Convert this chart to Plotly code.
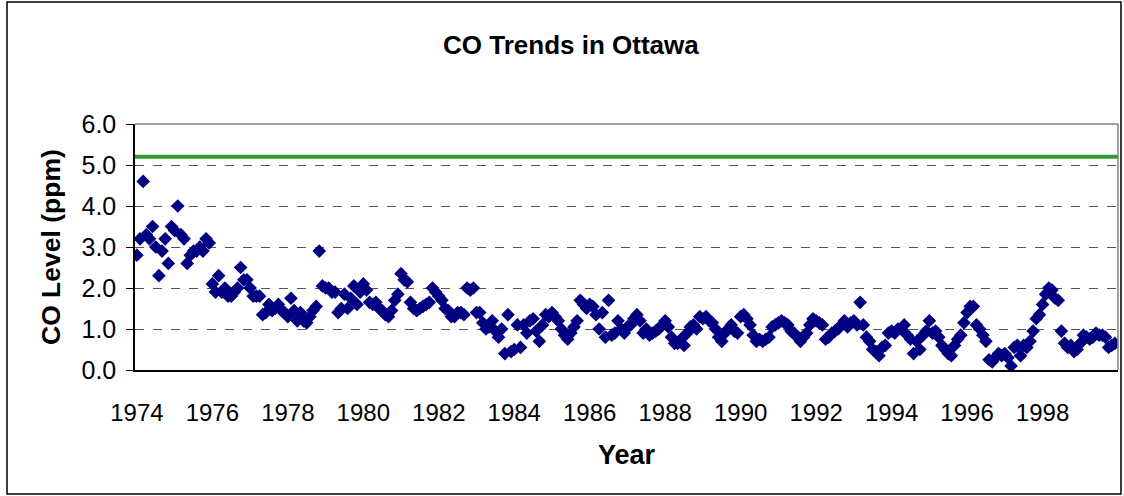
import plotly.graph_objects as go

# Monthly CO levels (ppm), Jan 1974 .. Dec 1999
co_1974 = [2.8, 3.2, 4.6, 3.3, 3.2, 3.5, 3.0, 2.3, 2.9, 3.2, 2.6, 3.5]
co_1975 = [3.4, 4.0, 3.3, 3.2, 2.6, 2.8, 2.9, 2.9, 3.0, 2.9, 3.2, 3.1]
co_1976 = [2.1, 1.9, 2.3, 1.9, 2.0, 1.8, 1.8, 1.9, 2.0, 2.5, 2.2, 2.2]
co_1977 = [2.0, 1.8, 1.8, 1.8, 1.35, 1.4, 1.6, 1.45, 1.5, 1.6, 1.45, 1.4]
co_1978 = [1.3, 1.75, 1.45, 1.2, 1.4, 1.2, 1.15, 1.3, 1.45, 1.55, 2.9, 2.05]
co_1979 = [2.0, 2.0, 1.9, 1.9, 1.4, 1.5, 1.85, 1.5, 1.75, 2.05, 1.6, 1.9]
co_1980 = [2.1, 1.95, 1.65, 1.6, 1.65, 1.5, 1.45, 1.35, 1.3, 1.45, 1.7, 1.85]
co_1981 = [2.35, 2.2, 2.15, 1.65, 1.5, 1.45, 1.5, 1.55, 1.6, 1.65, 2.0, 1.9]
co_1982 = [1.8, 1.7, 1.5, 1.45, 1.3, 1.3, 1.4, 1.4, 1.35, 2.0, 1.95, 2.0]
co_1983 = [1.4, 1.4, 1.15, 1.0, 1.05, 1.2, 0.95, 0.8, 1.0, 0.4, 1.35, 0.45]
co_1984 = [0.5, 1.1, 0.55, 1.1, 0.9, 1.2, 1.25, 0.95, 0.7, 1.1, 1.35, 1.3]
co_1985 = [1.4, 1.3, 1.2, 1.0, 0.85, 0.75, 0.9, 1.05, 1.2, 1.7, 1.6, 1.5]
co_1986 = [1.6, 1.55, 1.35, 1.0, 1.4, 0.8, 1.7, 0.85, 0.9, 1.2, 1.0, 0.9]
co_1987 = [1.05, 1.1, 1.25, 1.35, 1.2, 0.9, 1.0, 0.85, 0.9, 0.95, 1.0, 1.1]
co_1988 = [1.2, 1.05, 0.8, 0.65, 0.65, 0.75, 0.6, 0.9, 1.05, 1.1, 1.0, 1.3]
co_1989 = [1.25, 1.3, 1.2, 1.15, 1.0, 0.8, 0.7, 0.9, 1.0, 1.1, 0.95, 0.9]
co_1990 = [1.3, 1.35, 1.25, 1.1, 0.85, 0.7, 0.75, 0.7, 0.75, 0.8, 1.05, 1.1]
co_1991 = [1.15, 1.2, 1.15, 1.1, 0.95, 0.9, 0.8, 0.7, 0.8, 0.9, 1.1, 1.25]
co_1992 = [1.2, 1.15, 1.1, 0.75, 0.8, 0.9, 0.95, 1.0, 1.1, 1.2, 1.05, 1.15]
co_1993 = [1.2, 1.1, 1.65, 1.1, 0.8, 0.7, 0.5, 0.45, 0.35, 0.55, 0.6, 0.9]
co_1994 = [0.95, 0.9, 1.0, 1.0, 1.1, 0.85, 0.75, 0.4, 0.7, 0.5, 0.85, 0.95]
co_1995 = [1.2, 0.9, 0.95, 0.8, 0.6, 0.5, 0.4, 0.35, 0.6, 0.75, 0.85, 1.15]
co_1996 = [1.4, 1.55, 1.55, 1.1, 1.0, 0.85, 0.7, 0.25, 0.2, 0.3, 0.4, 0.35]
co_1997 = [0.4, 0.3, 0.1, 0.55, 0.6, 0.35, 0.6, 0.55, 0.7, 0.95, 1.25, 1.35]
co_1998 = [1.6, 1.85, 2.0, 1.95, 1.75, 1.7, 0.95, 0.65, 0.55, 0.6, 0.45, 0.5]
co_1999 = [0.65, 0.85, 0.8, 0.75, 0.8, 0.9, 0.85, 0.85, 0.8, 0.55, 0.6, 0.65]

years = list(range(1974, 2000))
yearly = [co_1974, co_1975, co_1976, co_1977, co_1978, co_1979, co_1980, co_1981,
          co_1982, co_1983, co_1984, co_1985, co_1986, co_1987, co_1988, co_1989,
          co_1990, co_1991, co_1992, co_1993, co_1994, co_1995, co_1996, co_1997,
          co_1998, co_1999]

standard_level = 5.2
x_ticks = list(range(1974, 1999, 2))
y_ticks = [0, 1, 2, 3, 4, 5, 6]
y_tick_labels = ["0.0", "1.0", "2.0", "3.0", "4.0", "5.0", "6.0"]

xs, ys = [], []
for yr, vals in zip(years, yearly):
    for m, v in enumerate(vals):
        xs.append(yr + m / 12.0)
        ys.append(v)

FONT = "Liberation Sans, Arial, sans-serif"

fig = go.Figure()
fig.add_trace(go.Scatter(
    x=[1973.95, 2000], y=[standard_level, standard_level], mode="lines",
    line=dict(color="#339933", width=4), hoverinfo="skip", showlegend=False))
fig.add_trace(go.Scatter(
    x=xs, y=ys, mode="markers",
    marker=dict(symbol="diamond", size=10.5, color="#000080", line=dict(width=0)),
    showlegend=False))

L, R, T, B = 135, 6, 124, 126
W, H = 1124, 496
pw, ph = W - L - R, H - T - B

def px(x):
    return (x - L) / pw

def py(y):
    return (H - B - y) / ph

fig.update_layout(
    width=W, height=H,
    margin=dict(l=L, r=R, t=T, b=B, pad=0),
    paper_bgcolor="white", plot_bgcolor="white",
    font=dict(family=FONT, color="black"),
    xaxis=dict(range=[1973.95, 2000], tickvals=x_ticks, ticktext=[str(v) for v in x_ticks],
               showgrid=False, zeroline=False, showline=True, linecolor="black", linewidth=1.5,
               ticks="", tickfont=dict(size=24, family=FONT), ticklabelstandoff=20),
    yaxis=dict(range=[0, 6], tickvals=y_ticks, ticktext=y_tick_labels,
               showgrid=True, gridcolor="#555555", griddash="dash", gridwidth=1,
               zeroline=False, showline=True, linecolor="black", linewidth=1.5,
               ticks="outside", ticklen=7, tickcolor="black", tickwidth=1,
               tickfont=dict(size=25, family=FONT), ticklabelstandoff=5),
    shapes=[
        dict(type="line", xref="paper", yref="paper", x0=0, x1=1, y0=1, y1=1,
             line=dict(color="#808080", width=1.5)),
        dict(type="line", xref="paper", yref="paper", x0=1, x1=1, y0=0, y1=1,
             line=dict(color="#808080", width=1.5)),
        dict(type="rect", xref="paper", yref="paper", x0=px(7), x1=px(1121),
             y0=py(494), y1=py(2), line=dict(color="black", width=1.5)),
    ],
    annotations=[
        dict(text="<b>CO Trends in Ottawa</b>", xref="paper", yref="paper",
             x=px(571), y=py(45), showarrow=False, xanchor="center", yanchor="middle",
             font=dict(size=26, family=FONT)),
        dict(text="<b>CO Level (ppm)</b>", xref="paper", yref="paper",
             x=px(51), y=py(247), showarrow=False, xanchor="center", yanchor="middle",
             textangle=-90, font=dict(size=26.5, family=FONT)),
        dict(text="<b>Year</b>", xref="paper", yref="paper",
             x=px(627), y=py(455), showarrow=False, xanchor="center", yanchor="middle",
             font=dict(size=27, family=FONT)),
    ],
)

fig.write_html("out.html", config={"displayModeBar": False},
               post_script="document.body.style.margin='0';document.body.style.padding='0';")
